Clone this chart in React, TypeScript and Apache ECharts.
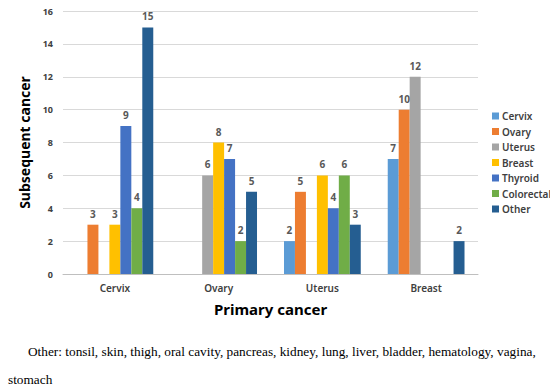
import React, { useEffect, useRef } from "react";
import * as echarts from "echarts";

const categories = ["Cervix", "Ovary", "Uterus", "Breast"];
const seriesNames = ["Cervix", "Ovary", "Uterus", "Breast", "Thyroid", "Colorectal", "Other"];
const cervixValues = [0, 0, 2, 7];
const ovaryValues = [3, 0, 5, 10];
const uterusValues = [0, 6, 0, 12];
const breastValues = [3, 8, 6, 0];
const thyroidValues = [9, 7, 4, 0];
const colorectalValues = [4, 2, 6, 0];
const otherValues = [15, 5, 3, 2];
const yTicks = [0, 2, 4, 6, 8, 10, 12, 14, 16];
const colors = ["#5B9BD5", "#ED7D31", "#A5A5A5", "#FFC000", "#4472C4", "#70AD47", "#255E91"];
const footLine1 = "Other: tonsil, skin, thigh, oral cavity, pancreas, kidney, lung, liver, bladder, hematology, vagina,";
const footLine2 = "stomach";

export default function App() {
  const ref = useRef<HTMLDivElement>(null);
  useEffect(() => {
    if (!ref.current) return;
    const chart = echarts.init(ref.current, null, { renderer: "svg" });
    const all = [cervixValues, ovaryValues, uterusValues, breastValues, thyroidValues, colorectalValues, otherValues];
    const font = "'Noto Sans', sans-serif";
    chart.setOption({
      animation: false,
      backgroundColor: "#ffffff",
      grid: { left: 63, right: 72, top: 11, bottom: 117 },
      legend: {
        orient: "vertical",
        left: 487,
        top: 106,
        itemWidth: 7,
        itemHeight: 7,
        itemGap: 5.5,
        icon: "rect",
        textStyle: { fontFamily: font, fontSize: 10, fontWeight: 600, color: "#404040", padding: [0, 0, 0, -2] },
        data: seriesNames,
      },
      xAxis: {
        type: "category",
        data: categories,
        name: "Primary cancer",
        nameLocation: "middle",
        nameGap: 27,
        nameTextStyle: { fontFamily: font, fontSize: 15, fontWeight: "bold", color: "#000" },
        axisLine: { lineStyle: { color: "#BFBFBF", width: 1 } },
        axisTick: { show: false },
        axisLabel: { fontFamily: font, fontSize: 10, fontWeight: 600, color: "#404040", margin: 9 },
      },
      yAxis: {
        type: "value",
        min: 0,
        max: 16,
        interval: 2,
        name: "Subsequent cancer",
        nameLocation: "middle",
        nameGap: 22,
        nameTextStyle: { fontFamily: font, fontSize: 14, fontWeight: "bold", color: "#000" },
        axisLine: { show: false },
        axisTick: { show: false },
        splitLine: { lineStyle: { color: "#D9D9D9", width: 1 } },
        axisLabel: {
          fontFamily: font,
          fontSize: 9,
          fontWeight: "bold",
          color: "#404040",
          margin: 10,
          formatter: (v: number) => (yTicks.includes(v) ? String(v) : ""),
        },
      },
      series: seriesNames.map((name, i) => ({
        name,
        type: "bar",
        data: all[i].map((v) => (v === 0 ? null : v)),
        itemStyle: { color: colors[i] },
        barGap: "0%",
        barCategoryGap: "26%",
        label: {
          show: true,
          position: "top",
          distance: 6,
          fontFamily: font,
          fontSize: 10,
          fontWeight: "bold",
          color: "#595959",
        },
      })),
      graphic: [
        {
          type: "text",
          left: 28,
          top: 345,
          style: { text: footLine1, fontFamily: "'Liberation Serif', serif", fontSize: 13.3, fill: "#000" },
        },
        {
          type: "text",
          left: 8,
          top: 373,
          style: { text: footLine2, fontFamily: "'Liberation Serif', serif", fontSize: 13.3, fill: "#000" },
        },
      ],
    });
    return () => chart.dispose();
  }, []);
  return <div ref={ref} style={{ position: "absolute", left: 0, top: 0, width: 550, height: 391 }} />;
}
